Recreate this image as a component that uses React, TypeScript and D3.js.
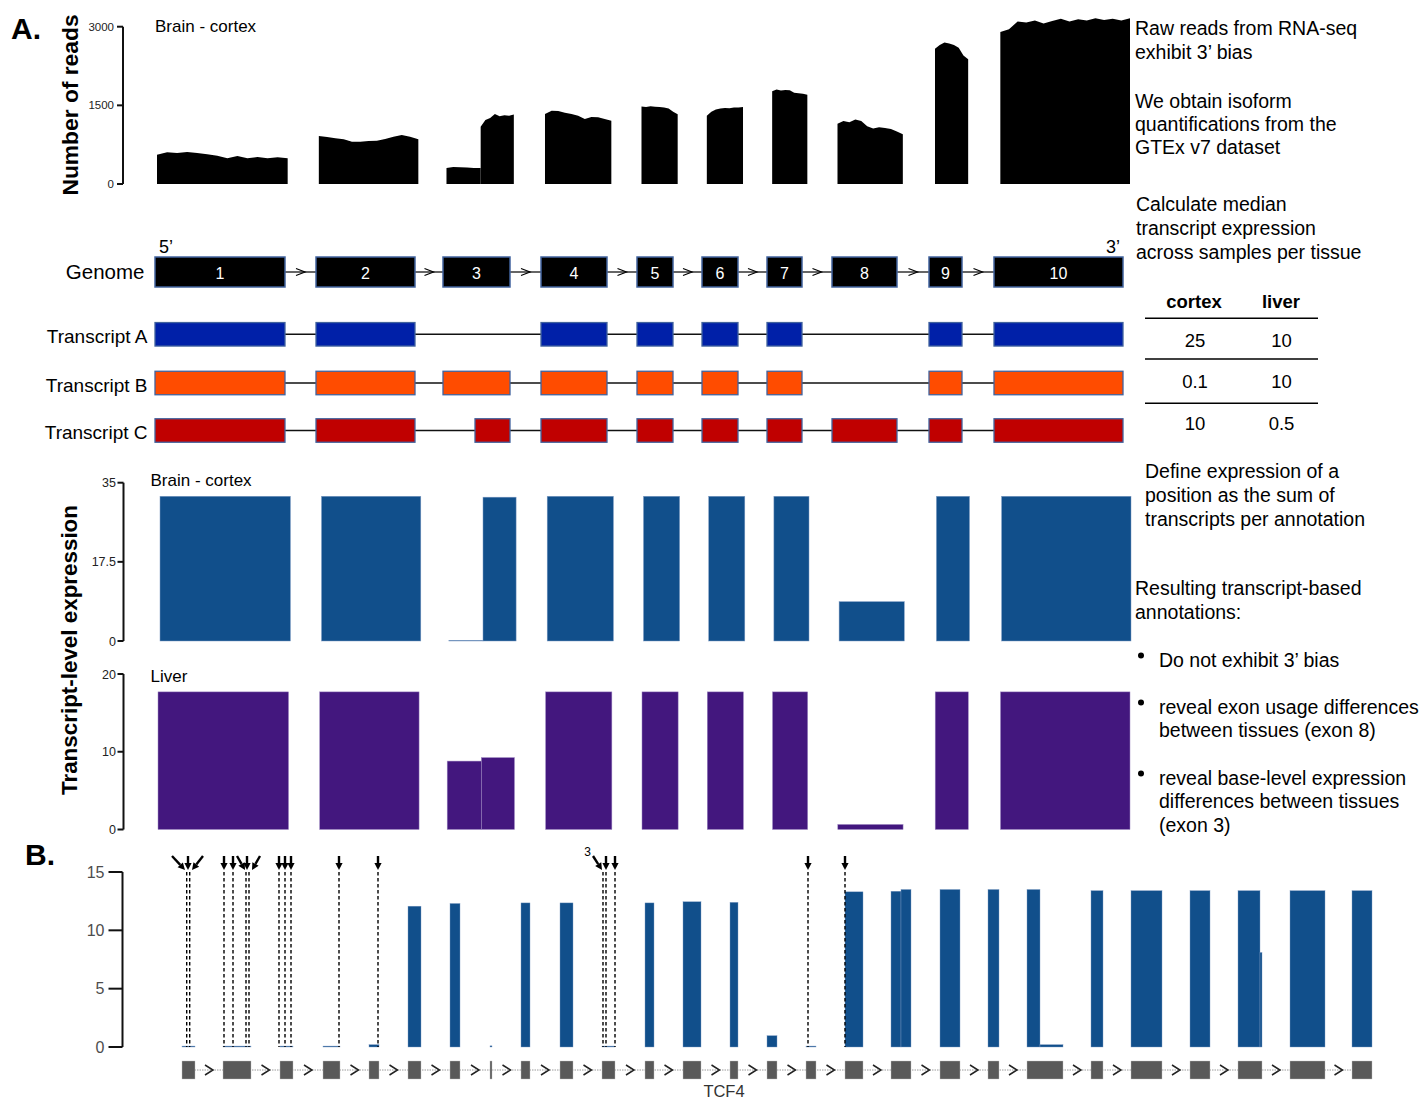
import React from 'react';
import * as d3 from 'd3';

const FONT = "'Liberation Sans', Arial, Helvetica, sans-serif";

// ---------------- Panel A: exon model (arbitrary genomic units) ----------------
const exonLabels = ['1', '2', '3', '4', '5', '6', '7', '8', '9', '10'];
const exonStarts = [0, 161, 288, 386, 482, 547, 612, 677, 774, 839];
const exonEnds = [130, 260, 355, 452, 518, 583, 647, 742, 807, 968];

const transcriptLabels = ['Transcript A', 'Transcript B', 'Transcript C'];
const transcriptExons = [
  [0, 1, 3, 4, 5, 6, 8, 9],
  [0, 1, 2, 3, 4, 5, 6, 8, 9],
  [0, 1, 2, 3, 4, 5, 6, 7, 8, 9],
];
const transcriptCExon3Start = 320;
const transcriptColors = ['#0020a8', '#ff4c00', '#c00000'];

// raw read coverage (segments; exon 3 split where transcript C begins)
const segStarts = [0, 161, 288, 322, 386, 482, 547, 612, 677, 774, 839];
const segEnds = [130, 260, 322, 355, 452, 518, 583, 647, 742, 807, 968];
const readValues = [
  [560, 604, 590, 608, 590, 566, 541, 490, 534, 490, 515, 490, 509, 490],
  [915, 896, 871, 852, 807, 807, 820, 826, 858, 903, 935, 903, 852],
  [305, 325, 318, 315, 305, 305],
  [1090, 1220, 1260, 1335, 1290, 1310, 1300, 1325],
  [1335, 1398, 1392, 1360, 1335, 1300, 1240, 1280, 1275, 1240, 1208],
  [1480, 1470, 1485, 1475, 1470, 1460, 1440, 1380, 1330],
  [1300, 1380, 1420, 1440, 1450, 1445, 1460, 1460, 1470],
  [1770, 1800, 1785, 1795, 1790, 1740, 1730, 1720, 1700],
  [1150, 1200, 1180, 1230, 1200, 1100, 1060, 1080, 1070, 1050, 1000, 950],
  [2580, 2650, 2700, 2680, 2650, 2600, 2450, 2380],
  [2900, 2950, 3100, 3080, 3120, 3060, 3110, 3150, 3100, 3140, 3120, 3160, 3130, 3150, 3120, 3160],
];
const readTicks = [0, 1500, 3000];

// transcript-level expression per segment
const cortexExpr = [32.0, 32.0, 0.15, 31.8, 32.0, 32.0, 32.0, 32.0, 8.7, 32.0, 32.0];
const liverExpr = [17.7, 17.7, 8.8, 9.25, 17.7, 17.7, 17.7, 17.7, 0.65, 17.7, 17.7];
const cortexTicks = [0, 17.5, 35];
const liverTicks = [0, 10, 20];

// median TPM table
const tableHeaders = ['cortex', 'liver'];
const cortexTPM = ['25', '0.1', '10'];
const liverTPM = ['10', '10', '0.5'];

// annotation text
const noteRaw = ['Raw reads from RNA-seq', 'exhibit 3’ bias'];
const noteGtex = ['We obtain isoform', 'quantifications from the', 'GTEx v7 dataset'];
const noteMedian = ['Calculate median', 'transcript expression', 'across samples per tissue'];
const noteDefine = ['Define expression of a', 'position as the sum of', 'transcripts per annotation'];
const noteResult = ['Resulting transcript-based', 'annotations:'];
const bulletNotes = [
  ['Do not exhibit 3’ bias'],
  ['reveal exon usage differences', 'between tissues (exon 8)'],
  ['reveal base-level expression', 'differences between tissues', '(exon 3)'],
];

// ---------------- Panel B: TCF4 ----------------
const tcf4ExonStarts = [0, 41, 98, 141, 187, 226, 268, 308, 339, 378, 420, 463, 501, 548, 585, 624, 663, 709, 758, 806, 845, 909, 949, 1008, 1056, 1108, 1170];
const tcf4ExonEnds = [13, 69, 111, 158, 197, 239, 278, 310, 348, 391, 433, 472, 519, 556, 595, 634, 681, 729, 778, 817, 881, 921, 980, 1028, 1080, 1143, 1190];
const covStarts = [0, 41, 98, 141, 187, 226, 268, 308, 339, 378, 420, 463, 501, 548, 585, 624, 663, 709, 719, 758, 806, 845, 858, 909, 949, 1008, 1056, 1078, 1108, 1170];
const covEnds = [13, 69, 111, 158, 197, 239, 278, 310, 348, 391, 433, 472, 519, 556, 595, 634, 681, 719, 729, 778, 817, 858, 881, 921, 980, 1028, 1078, 1080, 1143, 1190];
const covValues = [0.08, 0.08, 0.08, 0.08, 0.2, 12.07, 12.3, 0.1, 12.35, 12.35, 0.08, 12.35, 12.45, 12.4, 0.97, 0.08, 13.3, 13.35, 13.5, 13.5, 13.5, 13.5, 0.2, 13.4, 13.4, 13.4, 13.4, 8.1, 13.4, 13.4];
const dashedPositions = [4.7, 7.7, 42, 51, 64, 67, 97, 103, 109, 157, 196, 421, 424, 433, 626, 663];
const arrowTargets = [3, 6, 10, 42, 51, 63, 65, 70, 97, 103, 109, 157, 196, 420, 424, 433, 626, 663];
const arrowTailOffsets = [-13, 0, 11, 0, 0, -8, 0, 8, 0, 0, 0, 0, 0, -9, 0, 0, 0, 0];
const arrowLabels = ['', '', '', '', '', '', '', '', '', '', '', '', '', '3', '', '', '', ''];
const tcf4Ticks = [0, 5, 10, 15];
const geneName = 'TCF4';

function YAxis({ scale, ticks, x, tickLen, fontSize, color, labelGap, width }: any) {
  const [d0, d1] = scale.domain();
  return (
    <g>
      <line x1={x} x2={x} y1={scale(d0)} y2={scale(d1)} stroke="#111" strokeWidth={width} />
      {ticks.map((t: number, i: number) => (
        <g key={i}>
          <line x1={x - tickLen} x2={x} y1={scale(t)} y2={scale(t)} stroke="#111" strokeWidth={width} />
          <text x={x - tickLen - labelGap} y={scale(t)} dy="0.36em" textAnchor="end" fontSize={fontSize} fill={color}>
            {String(t)}
          </text>
        </g>
      ))}
    </g>
  );
}

function TextBlock({ x, y, lh, lines, size }: any) {
  return (
    <text x={x} y={y} fontSize={size} fill="#000">
      {lines.map((l: string, i: number) => (
        <tspan key={i} x={x} y={y + i * lh}>{l}</tspan>
      ))}
    </text>
  );
}

export default function App() {
  const xReads = d3.scaleLinear().domain([0, 968]).range([157, 1130]);
  const yReads = d3.scaleLinear().domain([0, 3000]).range([184, 26.7]);
  const xGenome = d3.scaleLinear().domain([0, 968]).range([155, 1123]);
  const xCortex = d3.scaleLinear().domain([0, 968]).range([160, 1131]);
  const yCortex = d3.scaleLinear().domain([0, 35]).range([641, 482.7]);
  const xLiver = d3.scaleLinear().domain([0, 968]).range([158, 1130]);
  const yLiver = d3.scaleLinear().domain([0, 20]).range([829.5, 674]);
  const xB = d3.scaleLinear().domain([0, 1190]).range([182, 1372]);
  const yB = d3.scaleLinear().domain([0, 15]).range([1047, 872]);

  const readArea = d3
    .area<{ x: number; v: number }>()
    .x((d) => xReads(d.x))
    .y0(yReads(0))
    .y1((d) => yReads(d.v))
    .curve(d3.curveLinear);

  const genomeY = 272;
  const genomeH = 30;
  const txY = [334.3, 383, 430.5];
  const txH = 23.5;
  const boxStroke = '#41639e';
  const noteSize = 19.5;

  const chevron = (cx: number, cy: number, w: number, h: number) =>
    `M${cx - w / 2},${cy - h / 2}L${cx + w / 2},${cy}L${cx - w / 2},${cy + h / 2}`;

  const geneY = 1070;

  return (
    <svg
      width={1424}
      height={1099}
      viewBox="0 0 1424 1099"
      style={{ position: 'absolute', left: 0, top: 0, background: '#fff' }}
      fontFamily={FONT}
    >
      <rect x={0} y={0} width={1424} height={1099} fill="#fff" />

      {/* ---------- Panel labels ---------- */}
      <text x={11} y={38.5} fontSize={30} fontWeight="bold">A.</text>
      <text x={25} y={865} fontSize={30} fontWeight="bold">B.</text>

      {/* Raw reads */}
      <text transform="translate(78,105) rotate(-90)" textAnchor="middle" fontSize={22.8} fontWeight="bold">Number of reads</text>
      <YAxis scale={yReads} ticks={readTicks} x={123} tickLen={6} fontSize={11.5} color="#222" labelGap={3} width={2} />
      <text x={155} y={31.5} fontSize={17}>Brain - cortex</text>
      {segStarts.map((s, i) => {
        const vals = readValues[i];
        const e = segEnds[i];
        const pts = vals.map((v, j) => ({ x: s + ((e - s) * j) / (vals.length - 1), v }));
        return <path key={i} d={readArea(pts) || ''} fill="#000" />;
      })}

      {/* Genome row */}
      <text x={144.5} y={279} fontSize={20.5} textAnchor="end">Genome</text>
      <text x={159} y={252.5} fontSize={18}>5’</text>
      <text x={1106} y={252.5} fontSize={18}>3’</text>
      {exonStarts.slice(0, -1).map((s, i) => {
        const a = xGenome(exonEnds[i]);
        const b = xGenome(exonStarts[i + 1]);
        return (
          <g key={i}>
            <line x1={a} x2={b} y1={genomeY} y2={genomeY} stroke="#000" strokeWidth={1.2} />
            <path d={chevron((a + b) / 2, genomeY, 9, 7)} fill="none" stroke="#000" strokeWidth={1.2} />
          </g>
        );
      })}
      {exonStarts.map((s, i) => (
        <g key={i}>
          <rect x={xGenome(s)} y={genomeY - genomeH / 2} width={xGenome(exonEnds[i]) - xGenome(s)} height={genomeH} fill="#000" stroke={boxStroke} strokeWidth={1.5} />
          <text x={(xGenome(s) + xGenome(exonEnds[i])) / 2} y={278.5} fontSize={16} fill="#fff" textAnchor="middle">{exonLabels[i]}</text>
        </g>
      ))}

      {/* Transcripts */}
      {transcriptExons.map((ex, t) => {
        const y = txY[t];
        const first = ex[0];
        const last = ex[ex.length - 1];
        return (
          <g key={t}>
            <text x={147.5} y={y + 8.5} fontSize={19} textAnchor="end">{transcriptLabels[t]}</text>
            <line x1={xGenome(exonEnds[first])} x2={xGenome(exonStarts[last])} y1={y} y2={y} stroke="#111" strokeWidth={1.5} />
            {ex.map((k) => {
              const s = t === 2 && k === 2 ? transcriptCExon3Start : exonStarts[k];
              return (
                <rect key={k} x={xGenome(s)} y={y - txH / 2} width={xGenome(exonEnds[k]) - xGenome(s)} height={txH} fill={transcriptColors[t]} stroke={boxStroke} strokeWidth={1.3} />
              );
            })}
          </g>
        );
      })}

      {/* Table */}
      {tableHeaders.map((h, i) => (
        <text key={h} x={i === 0 ? 1194 : 1281} y={308} fontSize={18.5} fontWeight="bold" textAnchor="middle">{h}</text>
      ))}
      {[318.3, 359, 403.3].map((y, i) => (
        <line key={i} x1={1145} x2={1318} y1={y} y2={y} stroke="#000" strokeWidth={1.5} />
      ))}
      {cortexTPM.map((v, i) => (
        <g key={i}>
          <text x={1195} y={[346.5, 388, 430][i]} fontSize={18.5} textAnchor="middle">{v}</text>
          <text x={1281.5} y={[346.5, 388, 430][i]} fontSize={18.5} textAnchor="middle">{liverTPM[i]}</text>
        </g>
      ))}

      {/* Transcript-level expression */}
      <text transform="translate(77,650) rotate(-90)" textAnchor="middle" fontSize={22.4} fontWeight="bold">Transcript-level expression</text>
      <YAxis scale={yCortex} ticks={cortexTicks} x={123.5} tickLen={6} fontSize={12.5} color="#222" labelGap={1.5} width={2} />
      <text x={150.5} y={486} fontSize={17}>Brain - cortex</text>
      {segStarts.map((s, i) => (
        <rect key={i} x={xCortex(s)} y={yCortex(cortexExpr[i])} width={xCortex(segEnds[i]) - xCortex(s)} height={yCortex(0) - yCortex(cortexExpr[i])} fill="#114f8b" stroke="#7f9cc4" strokeWidth={0.5} />
      ))}
      <YAxis scale={yLiver} ticks={liverTicks} x={123.5} tickLen={6} fontSize={12.5} color="#222" labelGap={1.5} width={2} />
      <text x={150.5} y={681.5} fontSize={17}>Liver</text>
      {segStarts.map((s, i) => (
        <rect key={i} x={xLiver(s)} y={yLiver(liverExpr[i])} width={xLiver(segEnds[i]) - xLiver(s)} height={yLiver(0) - yLiver(liverExpr[i])} fill="#43177e" stroke="#a08cc4" strokeWidth={0.5} />
      ))}

      {/* Right-hand notes */}
      <g>
        <TextBlock x={1135} y={34.5} lh={24} lines={noteRaw} size={noteSize} />
        <TextBlock x={1135} y={107.5} lh={23} lines={noteGtex} size={noteSize} />
        <TextBlock x={1136} y={210.5} lh={24} lines={noteMedian} size={noteSize} />
        <TextBlock x={1145} y={477.5} lh={24} lines={noteDefine} size={noteSize} />
        <TextBlock x={1135} y={594.5} lh={24} lines={noteResult} size={noteSize} />
        {bulletNotes.map((b, i) => {
          const y = [666.5, 713.5, 784.5][i];
          return (
            <g key={i}>
              <circle cx={1141} cy={y - 11} r={3} fill="#000" />
              <TextBlock x={1159} y={y} lh={23.5} lines={b} size={noteSize} />
            </g>
          );
        })}
      </g>

      {/* ---------- Panel B ---------- */}
      <YAxis scale={yB} ticks={tcf4Ticks} x={122.5} tickLen={14} fontSize={16} color="#4d4d4d" labelGap={4} width={2} />
      {covStarts.map((s, i) => (
        <rect key={i} x={xB(s)} y={yB(covValues[i])} width={xB(covEnds[i]) - xB(s)} height={yB(0) - yB(covValues[i])} fill="#114f8b" stroke="#7f9cc4" strokeWidth={0.4} />
      ))}
      {dashedPositions.map((p, i) => (
        <line key={i} x1={xB(p)} x2={xB(p)} y1={yB(15)} y2={yB(0)} stroke="#000" strokeWidth={1.4} strokeDasharray="3.5,2.5" />
      ))}
      {arrowTargets.map((p, i) => {
        const tx = xB(p);
        const ty = 870;
        const sx = tx + arrowTailOffsets[i];
        const sy = 856;
        const ang = Math.atan2(ty - sy, tx - sx);
        const hl = 7;
        const hw = 3.6;
        const bx = tx - hl * Math.cos(ang);
        const by = ty - hl * Math.sin(ang);
        const px = -Math.sin(ang) * hw;
        const py = Math.cos(ang) * hw;
        return (
          <g key={i}>
            <line x1={sx} y1={sy} x2={bx} y2={by} stroke="#000" strokeWidth={2.4} />
            <path d={`M${tx},${ty}L${bx + px},${by + py}L${bx - px},${by - py}Z`} fill="#000" />
            {arrowLabels[i] && (
              <text x={sx - 2} y={sy} fontSize={12} textAnchor="end">{arrowLabels[i]}</text>
            )}
          </g>
        );
      })}

      {/* Gene model */}
      <line x1={xB(0)} x2={xB(1190)} y1={geneY} y2={geneY} stroke="#9a9a9a" strokeWidth={1} strokeDasharray="1.5,1" />
      {tcf4ExonStarts.slice(0, -1).map((s, i) => {
        const a = xB(tcf4ExonEnds[i]);
        const b = xB(tcf4ExonStarts[i + 1]);
        return <path key={i} d={chevron((a + b) / 2, geneY, 8, 10)} fill="none" stroke="#222" strokeWidth={1.5} />;
      })}
      {tcf4ExonStarts.map((s, i) => (
        <rect key={i} x={xB(s)} y={geneY - 9} width={Math.max(1.5, xB(tcf4ExonEnds[i]) - xB(s))} height={18} fill="#595959" stroke="#bdbdbd" strokeWidth={0.4} />
      ))}
      <text x={724} y={1097} fontSize={16.5} fill="#333" textAnchor="middle">{geneName}</text>
    </svg>
  );
}
